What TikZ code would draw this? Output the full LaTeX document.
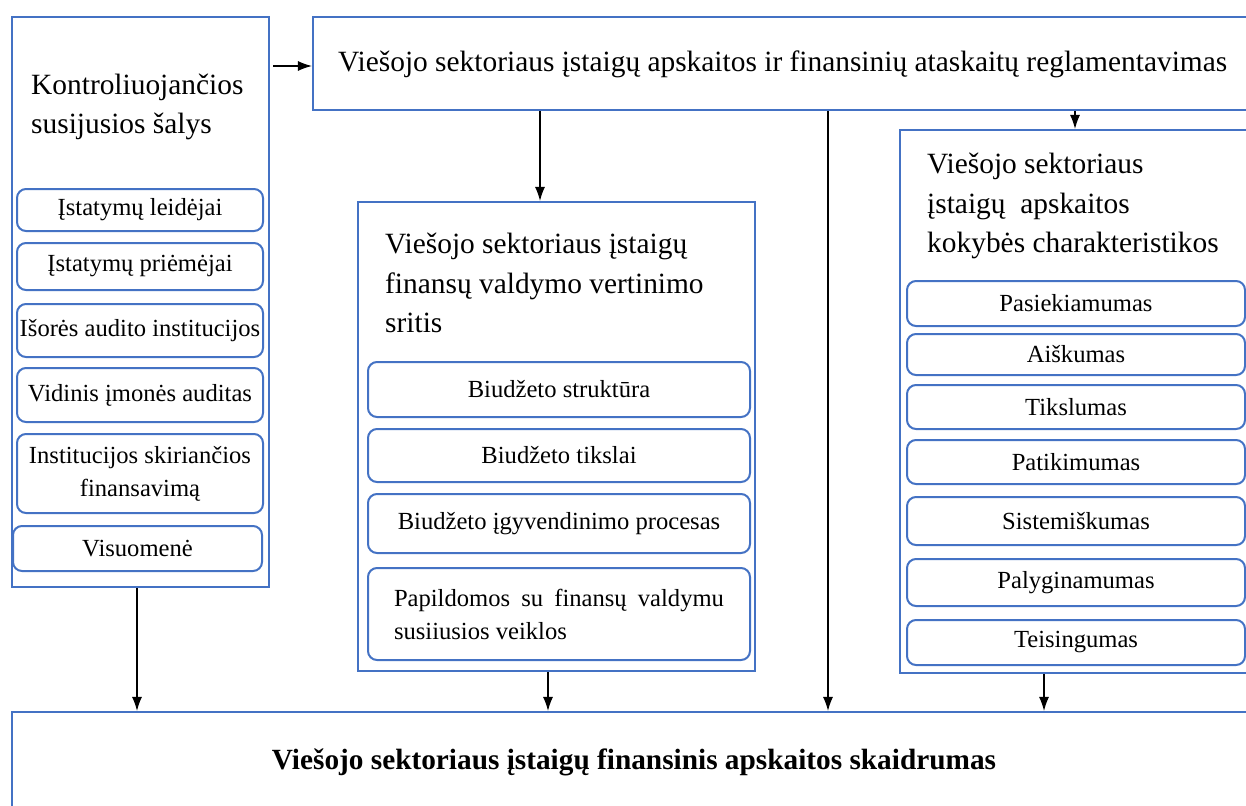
\documentclass[tikz,border=0pt]{standalone}
\usepackage{fontspec}
\setmainfont{Liberation Serif}
\usetikzlibrary{arrows.meta}
\definecolor{bblue}{RGB}{68,114,196}
\tikzset{
  outerbox/.style={draw=bblue, line width=2.2pt, fill=white, inner sep=0pt},
  subbox/.style={draw=bblue, line width=2pt, rounded corners=9pt, fill=white, inner sep=2pt, align=center, font=\fontsize{24.6}{33}\selectfont},
  headtxt/.style={align=left, inner sep=0pt, font=\fontsize{29.4}{39.5}\selectfont},
  arr/.style={line width=1.1pt, -{Latex[length=14pt,width=10pt]}},
}
\begin{document}
\begin{tikzpicture}[x=1pt,y=-1pt]
\useasboundingbox (0,0) rectangle (1246,805);
% outer boxes
\node[outerbox, minimum width=257pt, minimum height=570pt] (L) at (140.5,302) {};
\node[outerbox, minimum width=960pt, minimum height=93pt] (T) at (793,63.5) {};
\node[outerbox, minimum width=397pt, minimum height=469pt] (M) at (556.5,436.5) {};
\node[outerbox, minimum width=370pt, minimum height=543pt] (R) at (1085,401.5) {};
\node[outerbox, minimum width=1260pt, minimum height=120pt] (B) at (642,772) {};
% headings
\node[headtxt, anchor=west] (Lh) at (31,107) {Kontroliuojančios\\susijusios šalys};
\node[headtxt, anchor=west] (Th) at (338,64) {Viešojo sektoriaus įstaigų apskaitos ir finansinių ataskaitų reglamentavimas};
\node[headtxt, anchor=west] (Mh) at (385,283) {Viešojo sektoriaus įstaigų\\finansų valdymo vertinimo\\sritis};
\node[headtxt, anchor=west] (Rh) at (927,206) {Viešojo sektoriaus\\įstaigų\ \ apskaitos\\kokybės charakteristikos};
\node[inner sep=0pt, font=\fontsize{29.3}{34}\selectfont\bfseries] (Bh) at (634,762) {Viešojo sektoriaus įstaigų finansinis apskaitos skaidrumas};
% left sub boxes
\node[subbox, minimum width=246pt, minimum height=42pt] (l1) at (140,210) {Įstatymų leidėjai};
\node[subbox, minimum width=246pt, minimum height=47pt] (l2) at (140,266.5) {Įstatymų priėmėjai};
\node[subbox, minimum width=246pt, minimum height=53pt] (l3) at (140,330.5) {Išorės audito institucijos};
\node[subbox, minimum width=246pt, minimum height=54pt] (l4) at (140,395) {Vidinis įmonės auditas};
\node[subbox, minimum width=246pt, minimum height=79pt] (l5) at (140,473.5) {Institucijos skiriančios\\finansavimą};
\node[subbox, minimum width=249pt, minimum height=45pt] (l6) at (137.5,548.5) {Visuomenė};
% middle sub boxes
\node[subbox, minimum width=382pt, minimum height=55pt] (m1) at (559,389.5) {Biudžeto struktūra};
\node[subbox, minimum width=382pt, minimum height=53pt] (m2) at (559,455.5) {Biudžeto tikslai};
\node[subbox, minimum width=382pt, minimum height=59pt] (m3) at (559,523.5) {Biudžeto įgyvendinimo procesas};
\node[subbox, minimum width=382pt, minimum height=92pt, text width=330pt, align=justify] (m4) at (559,614) {Papildomos su finansų valdymu susiiusios veiklos};
% right sub boxes
\node[subbox, minimum width=338pt, minimum height=45pt] (r1) at (1076,303.5) {Pasiekiamumas};
\node[subbox, minimum width=338pt, minimum height=41pt] (r2) at (1076,354.5) {Aiškumas};
\node[subbox, minimum width=338pt, minimum height=44pt] (r3) at (1076,407) {Tikslumas};
\node[subbox, minimum width=338pt, minimum height=44pt] (r4) at (1076,462) {Patikimumas};
\node[subbox, minimum width=338pt, minimum height=48pt] (r5) at (1076,521) {Sistemiškumas};
\node[subbox, minimum width=338pt, minimum height=47pt] (r6) at (1076,582.5) {Palyginamumas};
\node[subbox, minimum width=338pt, minimum height=45pt] (r7) at (1076,642.5) {Teisingumas};
% connector x positions
\coordinate (xa) at (540,0);
\coordinate (xb) at (1075,0);
\coordinate (xc) at (828,0);
\coordinate (xd) at (137,0);
\coordinate (xe) at (548,0);
\coordinate (xf) at (1044,0);
\coordinate (ya) at (0,66);
% connectors
\draw[arr] ([xshift=3pt]L.east |- ya) -- (T.west |- ya);
\draw[arr] (T.south -| xa) -- (M.north -| xa);
\draw[arr] (T.south -| xb) -- (R.north -| xb);
\draw[arr] (T.south -| xc) -- (B.north -| xc);
\draw[arr] (L.south -| xd) -- (B.north -| xd);
\draw[arr] (M.south -| xe) -- (B.north -| xe);
\draw[arr] (R.south -| xf) -- (B.north -| xf);
\end{tikzpicture}
\end{document}
